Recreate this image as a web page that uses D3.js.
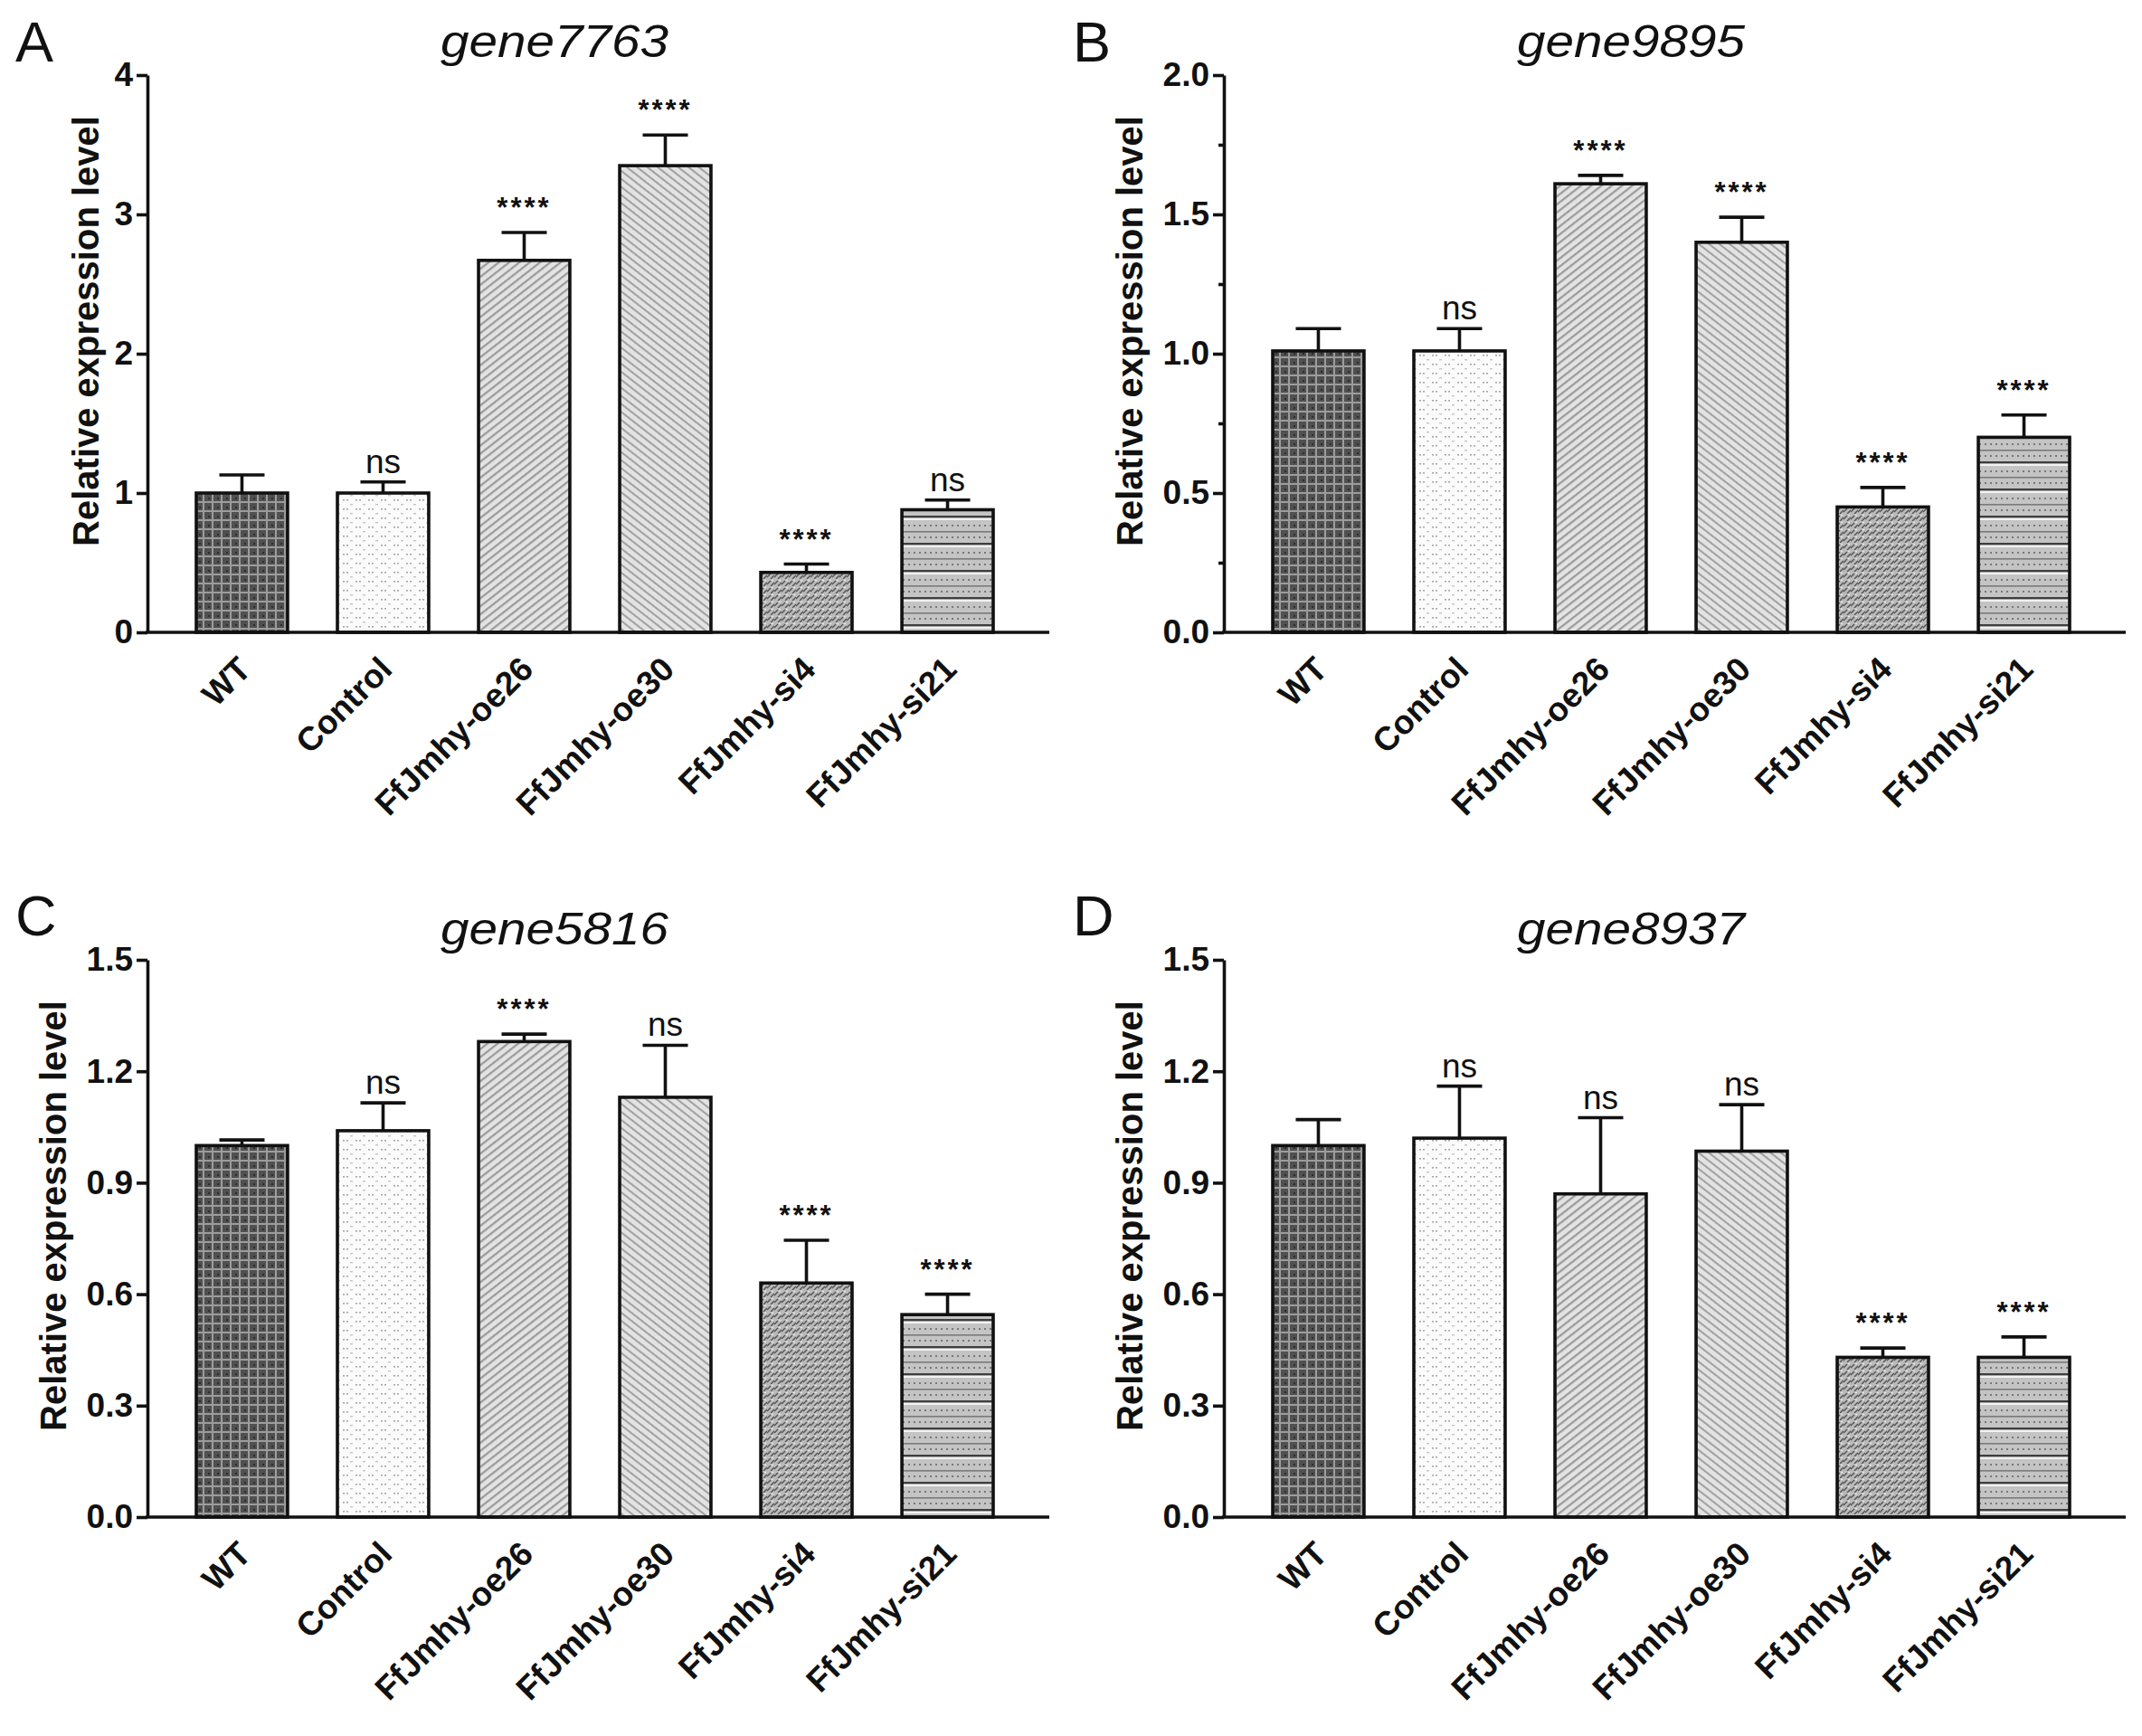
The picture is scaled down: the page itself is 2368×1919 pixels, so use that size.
<!DOCTYPE html>
<html>
<head>
<meta charset="utf-8">
<script src="https://cdn.jsdelivr.net/npm/d3@7"></script>
<style>
  body { margin: 0; background: #fff; }
  text { font-family: "Liberation Sans", Arial, sans-serif; }
</style>
</head>
<body>
<script>
var categories = ["WT", "Control", "FfJmhy-oe26", "FfJmhy-oe30", "FfJmhy-si4", "FfJmhy-si21"];
var genes = ["gene7763", "gene9895", "gene5816", "gene8937"];
var letters = ["A", "B", "C", "D"];
var yLabel = "Relative expression level";

// mean and SD (upper error only) per panel
var meanA = [1.00, 1.00, 2.67, 3.35, 0.43, 0.88],
    errA  = [0.13, 0.08, 0.20, 0.22, 0.06, 0.07];
var meanB = [1.01, 1.01, 1.61, 1.40, 0.45, 0.70],
    errB  = [0.08, 0.08, 0.03, 0.09, 0.07, 0.08];
var meanC = [1.00, 1.04, 1.28, 1.13, 0.63, 0.545],
    errC  = [0.015, 0.075, 0.02, 0.14, 0.115, 0.055];
var meanD = [1.00, 1.02, 0.87, 0.985, 0.43, 0.43],
    errD  = [0.07, 0.14, 0.205, 0.125, 0.025, 0.055];

var sigA = ["", "ns", "****", "****", "****", "ns"],
    sigB = ["", "ns", "****", "****", "****", "****"],
    sigC = ["", "ns", "****", "ns", "****", "****"],
    sigD = ["", "ns", "ns", "ns", "****", "****"];

var ticksA = [0, 1, 2, 3, 4],
    ticksB = [0, 0.5, 1.0, 1.5, 2.0],
    minorB = [0.25, 0.75, 1.25, 1.75],
    ticksC = [0, 0.3, 0.6, 0.9, 1.2, 1.5],
    ticksD = [0, 0.3, 0.6, 0.9, 1.2, 1.5];

var panels = [
  {mean: meanA, err: errA, sig: sigA, ticks: ticksA, minor: [], fmt: d3.format("d"),   ox: 0,    oy: 0,   lx: 17,   ly: 68,   ty: 63},
  {mean: meanB, err: errB, sig: sigB, ticks: ticksB, minor: minorB, fmt: d3.format(".1f"), ox: 1190, oy: 0,   lx: 1186, ly: 68,   ty: 63},
  {mean: meanC, err: errC, sig: sigC, ticks: ticksC, minor: [], fmt: d3.format(".1f"), ox: 0,    oy: 978, lx: 17,   ly: 1034, ty: 1044},
  {mean: meanD, err: errD, sig: sigD, ticks: ticksD, minor: [], fmt: d3.format(".1f"), ox: 1190, oy: 978, lx: 1186, ly: 1034, ty: 1044}
];

var W = 2368, H = 1919,
    axisX = 163, yTop = 83, yBase = 699, axisLen = 997,
    sw = 3.6;

var svg = d3.select("body").append("svg")
    .attr("width", W)
    .attr("height", H)
    .style("background", "#fff");

// fill patterns, one per group
var defs = svg.append("defs");

function pat(id, w, h, rot) {
  var p = defs.append("pattern")
      .attr("id", id)
      .attr("patternUnits", "userSpaceOnUse")
      .attr("width", w)
      .attr("height", h);
  if (rot) p.attr("patternTransform", "rotate(" + rot + ")");
  return p;
}

var p0 = pat("p0", 10, 10);
p0.append("rect").attr("width", 10).attr("height", 10).attr("fill", "#505050");
p0.append("rect").attr("x", 0).attr("y", 4).attr("width", 10).attr("height", 2).attr("fill", "#9c9c9c");
p0.append("rect").attr("x", 4).attr("y", 0).attr("width", 2).attr("height", 10).attr("fill", "#9c9c9c");
p0.append("rect").attr("x", 0).attr("y", 0).attr("width", 2).attr("height", 2).attr("fill", "#2e2e2e");

var p1 = pat("p1", 14, 10);
p1.append("rect").attr("width", 14).attr("height", 10).attr("fill", "#fbfbfb");
p1.append("rect").attr("x", 1).attr("y", 2).attr("width", 2).attr("height", 1.6).attr("fill", "#a8a8a8");
p1.append("rect").attr("x", 5).attr("y", 2).attr("width", 2).attr("height", 1.6).attr("fill", "#a8a8a8");
p1.append("rect").attr("x", 9).attr("y", 7).attr("width", 3).attr("height", 1.4).attr("fill", "#c4c4c4");

var p2 = pat("p2", 7, 7, 52);
p2.append("rect").attr("width", 7).attr("height", 7).attr("fill", "#e3e3e3");
p2.append("rect").attr("width", 2.2).attr("height", 7).attr("fill", "#9a9a9a");

var p3 = pat("p3", 7, 7, -52);
p3.append("rect").attr("width", 7).attr("height", 7).attr("fill", "#e2e2e2");
p3.append("rect").attr("width", 2).attr("height", 7).attr("fill", "#a0a0a0");

var p4 = pat("p4", 8, 8);
p4.append("rect").attr("width", 8).attr("height", 8).attr("fill", "#bababa");
p4.append("path").attr("d", "M0,6L4,2M4,8L8,4").attr("stroke", "#555").attr("stroke-width", 1.5);
p4.append("circle").attr("cx", 6).attr("cy", 1.5).attr("r", 0.9).attr("fill", "#eee");

var p5 = pat("p5", 12, 30);
p5.append("rect").attr("width", 12).attr("height", 30).attr("fill", "#c4c4c4");
p5.append("rect").attr("y", 0).attr("width", 12).attr("height", 2.2).attr("fill", "#3e3e3e");
p5.append("rect").attr("y", 3).attr("width", 12).attr("height", 2).attr("fill", "#f2f2f2");
p5.append("rect").attr("y", 17).attr("width", 12).attr("height", 1.6).attr("fill", "#7a7a7a");
p5.append("circle").attr("cx", 3).attr("cy", 11).attr("r", 1.1).attr("fill", "#666");
p5.append("circle").attr("cx", 9).attr("cy", 11).attr("r", 1.1).attr("fill", "#666");
p5.append("circle").attr("cx", 3).attr("cy", 24).attr("r", 1.1).attr("fill", "#666");
p5.append("circle").attr("cx", 9).attr("cy", 24).attr("r", 1.1).attr("fill", "#666");

var x = d3.scaleBand()
    .domain(categories)
    .range([axisX + 54, axisX + 54 + 881])
    .paddingInner(0.353);

panels.forEach(function(p, k) {
  var yMax = d3.max(p.ticks);
  var y = d3.scaleLinear().domain([0, yMax]).range([yBase, yTop]);

  var g = svg.append("g")
      .attr("transform", "translate(" + [p.ox, p.oy] + ")");

  var rows = categories.map(function(c, i) {
    return {cat: c, i: i, mean: p.mean[i], err: p.err[i], sig: p.sig[i]};
  });

  // bars
  g.selectAll("rect.bar")
    .data(rows)
    .enter().append("rect")
      .attr("class", "bar")
      .attr("x", function(d) { return x(d.cat); })
      .attr("y", function(d) { return y(d.mean); })
      .attr("width", x.bandwidth())
      .attr("height", function(d) { return y(0) - y(d.mean); })
      .attr("fill", function(d) { return "url(#p" + d.i + ")"; })
      .attr("stroke", "#111")
      .attr("stroke-width", sw);

  // error bars
  var eb = g.selectAll("g.err")
    .data(rows)
    .enter().append("g")
      .attr("class", "err")
      .attr("transform", function(d) { return "translate(" + (x(d.cat) + x.bandwidth() / 2) + ",0)"; });

  eb.append("line")
      .attr("y1", function(d) { return y(d.mean); })
      .attr("y2", function(d) { return y(d.mean + d.err); })
      .attr("stroke", "#111")
      .attr("stroke-width", sw);

  eb.append("line")
      .attr("x1", -25).attr("x2", 25)
      .attr("y1", function(d) { return y(d.mean + d.err); })
      .attr("y2", function(d) { return y(d.mean + d.err); })
      .attr("stroke", "#111")
      .attr("stroke-width", sw);

  eb.append("text")
      .attr("text-anchor", "middle")
      .attr("y", function(d) { return y(d.mean + d.err) - (d.sig === "ns" ? 10 : 17); })
      .attr("font-size", function(d) { return d.sig === "ns" ? 37 : 31; })
      .attr("font-weight", function(d) { return d.sig === "ns" ? "normal" : "bold"; })
      .attr("letter-spacing", function(d) { return d.sig === "ns" ? 0 : 3; })
      .attr("fill", "#111")
      .text(function(d) { return d.sig; });

  // y axis
  var ya = g.append("g")
      .attr("transform", "translate(" + axisX + ",0)")
      .call(d3.axisLeft(y).tickValues(p.ticks).tickFormat(p.fmt).tickSize(12).tickSizeOuter(0).tickPadding(4));
  ya.select(".domain").attr("stroke", "#111").attr("stroke-width", sw);
  ya.selectAll(".tick line").attr("stroke", "#111").attr("stroke-width", sw);
  ya.selectAll(".tick text")
      .attr("font-family", "'Liberation Sans', Arial, sans-serif")
      .attr("font-size", 37)
      .attr("font-weight", "bold")
      .attr("fill", "#111");

  if (p.minor.length) {
    var ym = g.append("g")
        .attr("transform", "translate(" + axisX + ",0)")
        .call(d3.axisLeft(y).tickValues(p.minor).tickFormat("").tickSize(6).tickSizeOuter(0));
    ym.select(".domain").remove();
    ym.selectAll(".tick line").attr("stroke", "#111").attr("stroke-width", sw);
  }

  // x axis
  g.append("line")
      .attr("x1", axisX - sw / 2).attr("x2", axisX + axisLen)
      .attr("y1", yBase).attr("y2", yBase)
      .attr("stroke", "#111")
      .attr("stroke-width", sw);

  var xa = g.append("g")
      .attr("transform", "translate(0," + yBase + ")")
      .call(d3.axisBottom(x).tickSize(0));
  xa.select(".domain").remove();
  xa.selectAll(".tick text")
      .attr("x", 0).attr("y", 0).attr("dy", 0)
      .attr("text-anchor", "end")
      .attr("transform", "translate(12,43) rotate(-45)")
      .attr("font-family", "'Liberation Sans', Arial, sans-serif")
      .attr("font-size", 37)
      .attr("font-weight", "bold")
      .attr("fill", "#111");

  // y label
  var decimals = p.fmt(p.ticks[1]).indexOf(".") >= 0;
  g.append("text")
      .attr("transform", "translate(" + (axisX - (decimals ? 90 : 54)) + "," + (yTop + 283) + ") rotate(-90)")
      .attr("text-anchor", "middle")
      .attr("font-size", 40)
      .attr("font-weight", "bold")
      .attr("fill", "#111")
      .text(yLabel);

  // title and panel letter
  svg.append("text")
      .attr("x", p.ox + axisX + 450)
      .attr("y", p.ty)
      .attr("text-anchor", "middle")
      .attr("font-size", 50)
      .attr("font-style", "italic")
      .attr("textLength", 252)
      .attr("lengthAdjust", "spacingAndGlyphs")
      .attr("fill", "#111")
      .text(genes[k]);

  svg.append("text")
      .attr("x", p.lx)
      .attr("y", p.ly)
      .attr("font-size", 63)
      .attr("fill", "#111")
      .text(letters[k]);
});
</script>
</body>
</html>
